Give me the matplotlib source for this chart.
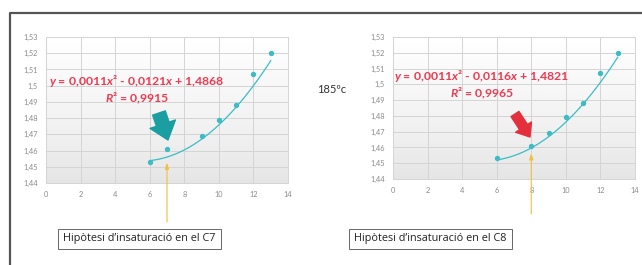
import numpy as np
import matplotlib
matplotlib.use('Agg')
import matplotlib.pyplot as plt
from matplotlib.lines import Line2D

# data
x_c7 = [6, 7, 9, 10, 11, 12, 13]
y_c7 = [1.453, 1.461, 1.469, 1.479, 1.488, 1.507, 1.520]
x_c8 = [6, 8, 9, 10, 11, 12, 13]
y_c8 = [1.453, 1.461, 1.469, 1.479, 1.488, 1.507, 1.520]
coef_c7 = [0.0011, -0.0121, 1.4868]
coef_c8 = [0.0011, -0.0116, 1.4821]
eq_c7 = ['$y$ = 0,0011$x$² - 0,0121$x$ + 1,4868', '$R$² = 0,9915']
eq_c8 = ['$y$ = 0,0011$x$² - 0,0116$x$ + 1,4821', '$R$² = 0,9965']
labels = ['Hipòtesi d\u2019insaturació en el C7', 'Hipòtesi d\u2019insaturació en el C8']
xticks = [0, 2, 4, 6, 8, 10, 12, 14]
yticks = [1.44, 1.45, 1.46, 1.47, 1.48, 1.49, 1.50, 1.51, 1.52, 1.53]

W, H = 642, 265
teal = '#3cbcc4'
red_txt = '#ee3a52'

plt.rcParams['font.family'] = ['Lato', 'DejaVu Sans']
plt.rcParams['mathtext.fontset'] = 'custom'
plt.rcParams['mathtext.it'] = 'Lato:italic:bold'
plt.rcParams['mathtext.rm'] = 'Lato:bold'
fig = plt.figure(figsize=(W / 100, H / 100), dpi=100)
fig.patch.set_facecolor('white')


def fx(px):
    return px / W


def fy(py):
    return 1 - py / H


# outer frame (left and top only)
fig.add_artist(Line2D([fx(10.5), fx(10.5), fx(642)], [fy(265), fy(12.5), fy(12.5)],
                      color='#555555', lw=1.6, transform=fig.transFigure))


def draw_panel(rect, xs, ys, coef, eq, eq_pos, arrow_col, arrow_from, arrow_to, arrow_scale,
               target_x, line_bottom, box_center, label):
    l, t, r, b = rect
    ax = fig.add_axes([fx(l), fy(b), fx(r - l), (b - t) / H])
    ax.set_xlim(0, 14)
    ax.set_ylim(1.44, 1.53)
    # gradient background
    grad = np.linspace(0, 1, 100).reshape(-1, 1)
    ax.imshow(grad, extent=[0, 14, 1.44, 1.53], aspect='auto', cmap=plt.cm.Greys,
              vmin=0, vmax=5.5, origin='upper', zorder=0)
    ax.set_xticks(xticks)
    ax.set_yticks(yticks)
    ax.set_xticklabels([str(v) for v in xticks])
    ax.set_yticklabels([('%g' % v).replace('.', ',') for v in yticks])
    ax.tick_params(length=0, labelsize=5.3, colors='#8a8a8a', pad=6)
    ax.grid(True, color='#d4d4d4', lw=0.7, zorder=1)
    for s in ax.spines.values():
        s.set_color('#d4d4d4')
        s.set_linewidth(0.7)

    xx = np.linspace(min(xs), max(xs), 100)
    ax.plot(xx, np.polyval(coef, xx), color=teal, lw=0.9, zorder=3)
    ax.scatter(xs, ys, s=8, color=teal, zorder=4)

    # equation
    fig.text(fx(eq_pos[0]), fy(eq_pos[1]), eq[0], ha='center', va='center', fontsize=8.8,
             color=red_txt, fontweight='bold')
    fig.text(fx(eq_pos[0]), fy(eq_pos[1] + 17), eq[1], ha='center', va='center', fontsize=8.8,
             color=red_txt, fontweight='bold')

    # fat arrow towards the point
    fig.add_artist(matplotlib.patches.FancyArrowPatch(
        (fx(arrow_from[0]), fy(arrow_from[1])), (fx(arrow_to[0]), fy(arrow_to[1])),
        transform=fig.transFigure, arrowstyle='simple,head_width=1.6,head_length=1.0,tail_width=0.8',
        mutation_scale=arrow_scale, color=arrow_col, shrinkA=0, shrinkB=0, zorder=5))

    # yellow pointer line
    xpix = l + target_x / 14 * (r - l)
    ax.annotate('', xy=(target_x, np.polyval(coef, target_x) - 0.0035), xycoords='data',
                xytext=(fx(xpix), fy(line_bottom)), textcoords='figure fraction',
                arrowprops=dict(arrowstyle='-|>,head_width=0.12,head_length=0.35', color='#f0c040',
                                lw=0.8, shrinkA=0, shrinkB=0), annotation_clip=False, zorder=5)

    fig.text(fx(box_center[0]), fy(box_center[1]), label, ha='center', va='center', fontsize=7.8,
             color='#222222', family=['Open Sans', 'DejaVu Sans'],
             bbox=dict(boxstyle='square,pad=0.45', fc='white', ec='#666666', lw=0.7))
    return ax


draw_panel((46, 37, 288, 183), x_c7, y_c7, coef_c7, eq_c7, (137, 81), '#1a9ea2',
           (159, 113), (168, 140), 12, 7, 222, (139.5, 239), labels[0])
draw_panel((393, 37, 635, 179), x_c8, y_c8, coef_c8, eq_c8, (482, 76), '#e4303c',
           (515, 114), (530, 137), 8.5, 8, 214, (430.5, 239), labels[1])

fig.text(fx(332), fy(90), '185ºc', ha='center', va='center', fontsize=8, color='#333333')

fig.savefig('out.png', dpi=100)
